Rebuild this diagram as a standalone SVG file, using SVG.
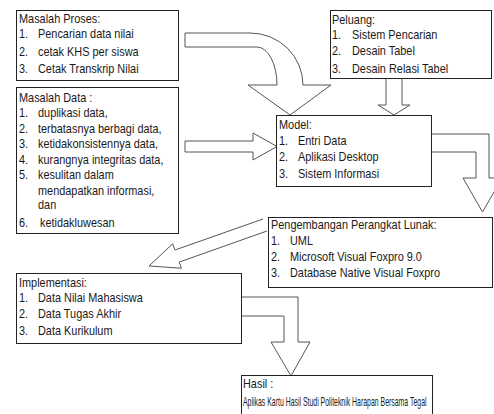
<svg xmlns="http://www.w3.org/2000/svg" width="494" height="414" viewBox="0 0 494 414">
<style>
.box{fill:#fff;stroke:#222;stroke-width:1}
.arr{fill:#fff;stroke:#555;stroke-width:1;stroke-linejoin:miter}
text{font-family:"Liberation Sans",Arial,sans-serif;font-size:13.3px;fill:#1a1a1a}
</style>
<rect width="494" height="414" fill="#fff"/>
<g id="connectors">
<path class="arr" d="M185,33 H250 A53,52 0 0 1 303,85 H331 L290,115 L248,85 H277 A20,38 0 0 0 257,47 H185 Z"/>
<path class="arr" d="M185,141 H253 V133 L277,146.5 L253,160 V152 H185 Z"/>
<path class="arr" d="M386,78 V105 H378 L394,115 L410,105 H402 V78"/>
<path class="arr" d="M432,134 H489 V178 H502 L482.5,212 L463,178 H476 V152 H432"/>
<path class="arr" d="M263,219 L175,250 L172.6,243.8 L149,266 L181.4,268.2 L179.2,262.1 L267,231"/>
<path class="arr" d="M242,297 H298 V342 H310 L291,376 L271,342 H284 V316 H242"/>
</g>
<g id="masalah-proses">
<rect class="box" x="16.5" y="10.5" width="162" height="70"/>
<text transform="translate(19,23) scale(0.82,1)">Masalah Proses:</text>
<text transform="translate(19,38) scale(0.82,1)">1.</text><text transform="translate(38,38) scale(0.82,1)">Pencarian data nilai</text>
<text transform="translate(19,56) scale(0.82,1)">2.</text><text transform="translate(38,56) scale(0.82,1)">cetak KHS per siswa</text>
<text transform="translate(19,73) scale(0.82,1)">3.</text><text transform="translate(38,73) scale(0.82,1)">Cetak Transkrip Nilai</text>
</g>
<g id="masalah-data">
<rect class="box" x="16.5" y="87.5" width="162" height="146"/>
<text transform="translate(19,102) scale(0.82,1)">Masalah Data :</text>
<text transform="translate(19,117) scale(0.82,1)">1.</text><text transform="translate(38,117) scale(0.82,1)">duplikasi data,</text>
<text transform="translate(19,133) scale(0.82,1)">2.</text><text transform="translate(38,133) scale(0.82,1)">terbatasnya berbagi data,</text>
<text transform="translate(19,148) scale(0.82,1)">3.</text><text transform="translate(38,148) scale(0.82,1)">ketidakonsistennya data,</text>
<text transform="translate(19,164) scale(0.82,1)">4.</text><text transform="translate(38,164) scale(0.82,1)">kurangnya integritas data,</text>
<text transform="translate(19,179) scale(0.82,1)">5.</text><text transform="translate(38,179) scale(0.82,1)">kesulitan dalam</text>
<text transform="translate(38,195) scale(0.82,1)">mendapatkan informasi,</text>
<text transform="translate(38,209) scale(0.82,1)">dan</text>
<text transform="translate(19,227) scale(0.82,1)">6.</text><text transform="translate(40,227) scale(0.82,1)">ketidakluwesan</text>
</g>
<g id="peluang">
<rect class="box" x="330.5" y="10.5" width="161" height="68"/>
<text transform="translate(332,24) scale(0.82,1)">Peluang:</text>
<text transform="translate(332,39) scale(0.82,1)">1.</text><text transform="translate(352,39) scale(0.82,1)">Sistem Pencarian</text>
<text transform="translate(332,55) scale(0.82,1)">2.</text><text transform="translate(352,55) scale(0.82,1)">Desain Tabel</text>
<text transform="translate(332,73) scale(0.82,1)">3.</text><text transform="translate(352,73) scale(0.82,1)">Desain Relasi Tabel</text>
</g>
<g id="model">
<rect class="box" x="276.5" y="115.5" width="155" height="71"/>
<text transform="translate(279,129) scale(0.82,1)">Model:</text>
<text transform="translate(279,145) scale(0.82,1)">1.</text><text transform="translate(298,145) scale(0.82,1)">Entri Data</text>
<text transform="translate(279,161) scale(0.82,1)">2.</text><text transform="translate(298,161) scale(0.82,1)">Aplikasi Desktop</text>
<text transform="translate(279,178) scale(0.82,1)">3.</text><text transform="translate(298,178) scale(0.82,1)">Sistem Informasi</text>
</g>
<g id="pengembangan">
<rect class="box" x="268.5" y="217.5" width="224" height="70"/>
<text transform="translate(271,229) scale(0.82,1)">Pengembangan Perangkat Lunak:</text>
<text transform="translate(271,245) scale(0.82,1)">1.</text><text transform="translate(290,245) scale(0.82,1)">UML</text>
<text transform="translate(271,261) scale(0.82,1)">2.</text><text transform="translate(290,261) scale(0.82,1)">Microsoft Visual Foxpro 9.0</text>
<text transform="translate(271,277) scale(0.82,1)">3.</text><text transform="translate(290,277) scale(0.82,1)">Database Native Visual Foxpro</text>
</g>
<g id="implementasi">
<rect class="box" x="16.5" y="273.5" width="225" height="70"/>
<text transform="translate(19,287) scale(0.82,1)">Implementasi:</text>
<text transform="translate(19,302) scale(0.82,1)">1.</text><text transform="translate(38,302) scale(0.82,1)">Data Nilai Mahasiswa</text>
<text transform="translate(19,318) scale(0.82,1)">2.</text><text transform="translate(38,318) scale(0.82,1)">Data Tugas Akhir</text>
<text transform="translate(19,335) scale(0.82,1)">3.</text><text transform="translate(38,335) scale(0.82,1)">Data Kurikulum</text>
</g>
<g id="hasil">
<rect class="box" x="241.5" y="375.5" width="191" height="50"/>
<text transform="translate(243,388) scale(0.82,1)">Hasil :</text>
<text transform="translate(243,406) scale(0.52,1)">Aplikas Kartu Hasil Studi Politeknik Harapan Bersama Tegal</text>
</g>
</svg>
